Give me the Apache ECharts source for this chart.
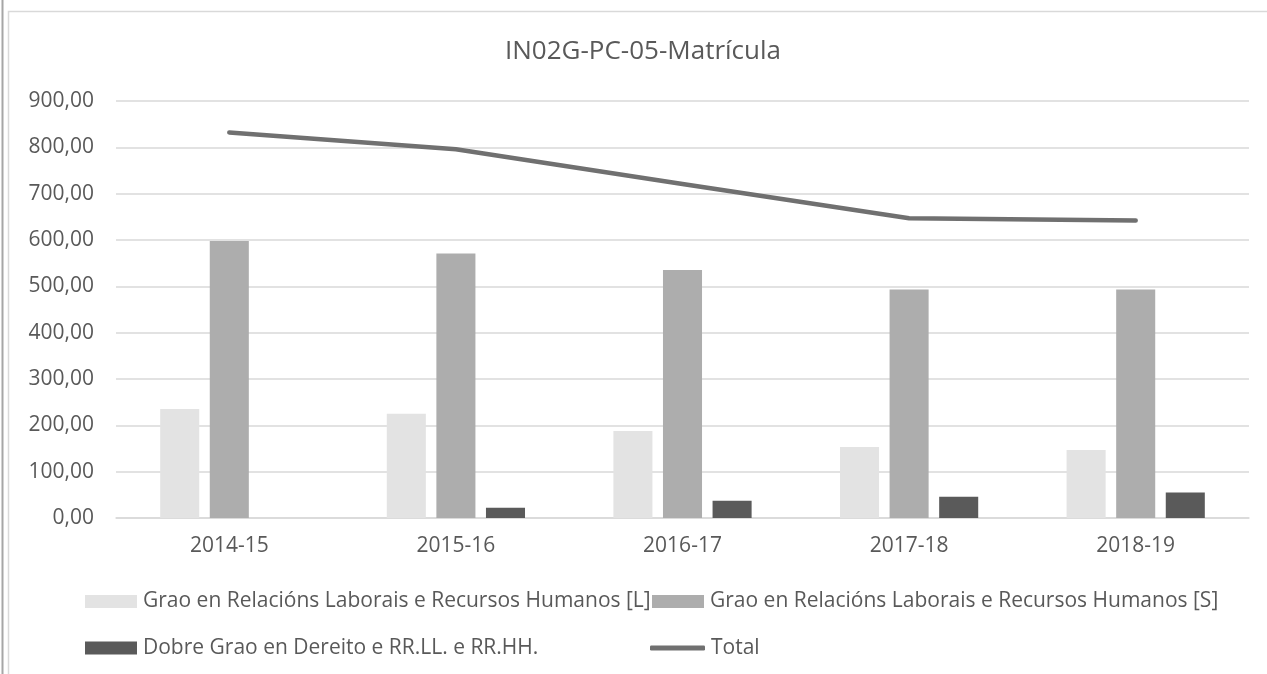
<!DOCTYPE html>
<html>
<head>
<meta charset="utf-8">
<script src="https://cdn.jsdelivr.net/npm/echarts@6/dist/echarts.min.js"></script>
<style>
  html, body { margin: 0; padding: 0; background: #fff; }
  #chart { width: 1267px; height: 674px; }
</style>
</head>
<body>
<div id="chart"></div>
<script>
// datos
const categories = ['2014-15', '2015-16', '2016-17', '2017-18', '2018-19'];
const seriesNames = [
    'Grao en Relacións Laborais e Recursos Humanos [L]',
    'Grao en Relacións Laborais e Recursos Humanos [S]',
    'Dobre Grao en Dereito e RR.LL. e RR.HH.',
    'Total'
];
const gradoL = [235, 225, 188, 153, 147];
const gradoS = [598, 571, 535, 493, 493];
const dobreGrao = [null, 22, 37, 46, 55];
const total = [832, 796, 721, 647, 642];
const yTicks = { min: 0, max: 900, interval: 100 };

const FONT = '"Open Sans"';
const TEXT_COLOR = '#595959';

const chart = echarts.init(document.getElementById('chart'));

const legendBase = {
    orient: 'horizontal',
    itemWidth: 52,
    itemHeight: 13,
    itemGap: 0,
    icon: 'rect',
    padding: 0,
    itemStyle: { borderWidth: 0 },
    textStyle: { fontFamily: FONT, fontSize: 21, color: TEXT_COLOR, lineHeight: 21, padding: [0, 0, 0, 1] },
    selectedMode: false
};

const option = {
    animation: false,
    graphic: [
        { type: 'line', shape: { x1: 2.5, y1: 0, x2: 2.5, y2: 674 }, style: { stroke: '#a6a6a6', lineWidth: 2 } },
        { type: 'rect', shape: { x: 8.5, y: 11.5, width: 1300, height: 700 }, style: { fill: 'none', stroke: '#d9d9d9', lineWidth: 1.5 } },
        {
            type: 'text', x: 643, y: 52,
            style: {
                text: 'IN02G-PC-05-Matrícula', fontFamily: FONT, fontSize: 26,
                fill: TEXT_COLOR, textAlign: 'center', textVerticalAlign: 'middle'
            }
        }
    ],
    grid: { left: 116, right: 18, top: 101, bottom: 156, containLabel: false },
    legend: [
        Object.assign({}, legendBase, { left: 85, top: 591, data: [seriesNames[0]] }),
        Object.assign({}, legendBase, { left: 652, top: 591, data: [seriesNames[1]] }),
        Object.assign({}, legendBase, { left: 85, top: 637.5, data: [seriesNames[2]] }),
        Object.assign({}, legendBase, {
            left: 650, top: 637.5, itemWidth: 55, itemHeight: 5, icon: 'roundRect',
            data: [seriesNames[3]]
        })
    ],
    xAxis: {
        type: 'category',
        data: categories,
        axisLine: { lineStyle: { color: '#d9d9d9', width: 1.5 } },
        axisTick: { show: false },
        axisLabel: { fontFamily: FONT, fontSize: 21, color: TEXT_COLOR, margin: 18 }
    },
    yAxis: {
        type: 'value',
        min: yTicks.min,
        max: yTicks.max,
        interval: yTicks.interval,
        axisLine: { show: false },
        axisTick: { show: false },
        splitLine: { lineStyle: { color: '#d9d9d9', width: 1.5 } },
        axisLabel: {
            fontFamily: FONT, fontSize: 21, color: TEXT_COLOR, margin: 22,
            formatter: v => v.toFixed(2).replace('.', ',')
        }
    },
    series: [
        {
            name: seriesNames[0], type: 'bar', data: gradoL,
            itemStyle: { color: '#e3e3e3' },
            barCategoryGap: '39%', barGap: '27%'
        },
        {
            name: seriesNames[1], type: 'bar', data: gradoS,
            itemStyle: { color: '#adadad' },
            barCategoryGap: '39%', barGap: '27%'
        },
        {
            name: seriesNames[2], type: 'bar', data: dobreGrao,
            itemStyle: { color: '#5a5a5a' },
            barCategoryGap: '39%', barGap: '27%'
        },
        {
            name: seriesNames[3], type: 'line', data: total,
            color: '#707070',
            showSymbol: false,
            symbol: 'none',
            lineStyle: { color: '#707070', width: 4.5, cap: 'round', join: 'round' },
            itemStyle: { color: '#707070' },
            z: 5
        }
    ]
};

chart.setOption(option);
</script>
</body>
</html>
